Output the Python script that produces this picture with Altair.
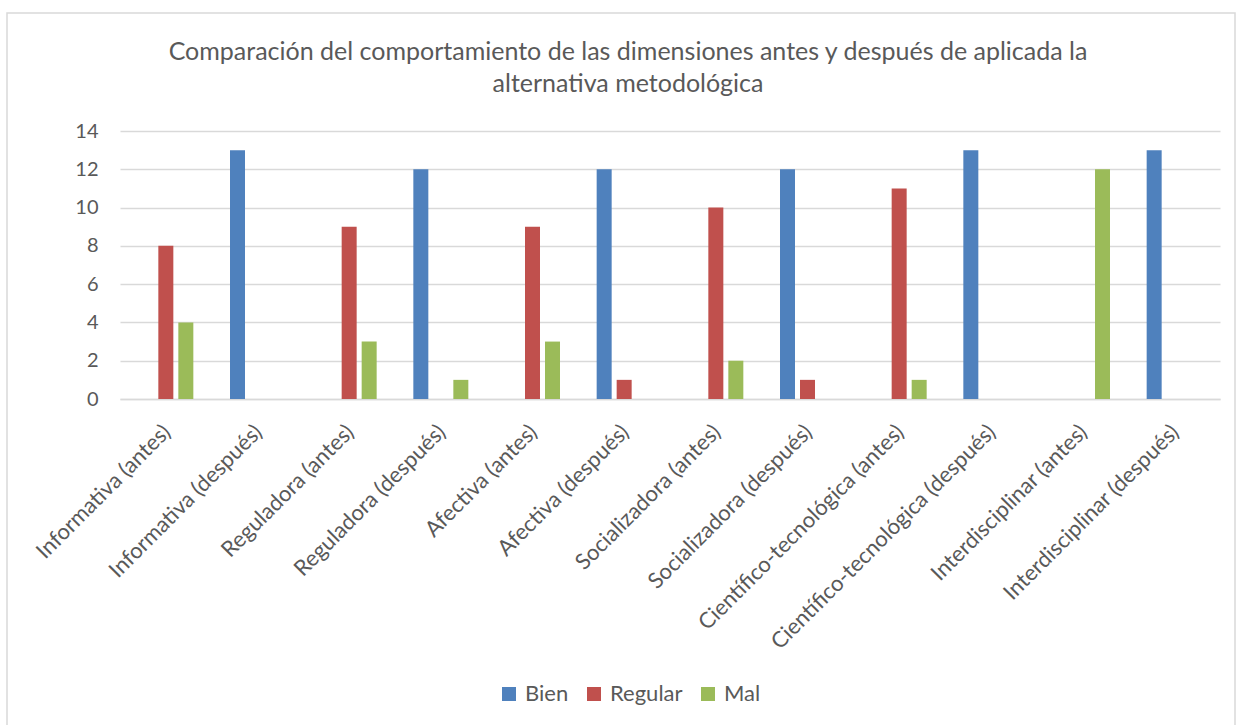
import altair as alt
import pandas as pd

categories = [
    "Informativa (antes)", "Informativa (después)",
    "Reguladora (antes)", "Reguladora (después)",
    "Afectiva (antes)", "Afectiva (después)",
    "Socializadora (antes)", "Socializadora (después)",
    "Científico-tecnológica (antes)", "Científico-tecnológica (después)",
    "Interdisciplinar (antes)", "Interdisciplinar (después)",
]
series = ["Bien", "Regular", "Mal"]
bien =    [0, 13, 0, 12, 0, 12, 0, 12, 0, 13, 0, 13]
regular = [8, 0, 9, 0, 9, 1, 10, 1, 11, 0, 0, 0]
mal =     [4, 0, 3, 1, 3, 0, 2, 0, 1, 0, 12, 0]
colors = ["#4F81BD", "#C0504D", "#9BBB59"]
title_lines = ["Comparación del comportamiento de las dimensiones antes y después de aplicada la",
               "alternativa metodológica"]

rows = []
for i, c in enumerate(categories):
    for s, vals in zip(series, [bien, regular, mal]):
        rows.append({"cat": c, "serie": s, "valor": vals[i]})
df = pd.DataFrame(rows)

FONT = "Lato"
GRAY = "#595959"

bars = alt.Chart(df).mark_bar().encode(
    x=alt.X("cat:N", sort=categories, title=None,
            scale=alt.Scale(paddingInner=0.4, paddingOuter=0.2),
            axis=alt.Axis(labelAngle=-45, labelAlign="right", labelBaseline="top",
                          labelFontSize=22, labelColor=GRAY,
                          labelFont=FONT, ticks=False, domainColor="#d9d9d9",
                          domainWidth=1.5, labelPadding=22, labelOffset=-6, labelLimit=400)),
    xOffset=alt.XOffset("serie:N", sort=series,
                        scale=alt.Scale(paddingInner=0.25)),
    y=alt.Y("valor:Q", title=None,
            scale=alt.Scale(domain=[0, 14]),
            axis=alt.Axis(values=[0, 2, 4, 6, 8, 10, 12, 14], domain=False, ticks=False,
                          labelFontSize=20, labelColor=GRAY, labelFont=FONT,
                          gridColor="#d9d9d9", gridWidth=1.5, labelPadding=22)),
    color=alt.Color("serie:N", sort=series,
                    scale=alt.Scale(domain=series, range=colors),
                    legend=alt.Legend(title=None, orient="none", direction="horizontal",
                                      legendX=378, legendY=552,
                                      symbolType="square", symbolSize=196,
                                      symbolStrokeWidth=0,
                                      labelFontSize=22, labelColor=GRAY, labelFont=FONT,
                                      columnPadding=14, labelOffset=5)),
)

border = alt.Chart(alt.Data(values=[{}])).mark_rect(
    fill=None, stroke="#d9d9d9", strokeWidth=1.5
).encode(
    x=alt.value(-113), x2=alt.value(1115), y=alt.value(-118), y2=alt.value(620)
)

title = alt.Chart(alt.Data(values=[{"t": "\n".join(title_lines)}])).mark_text(
    font=FONT, fontSize=25, color=GRAY, lineBreak="\n", lineHeight=32,
    align="center", baseline="middle"
).encode(
    text="t:N", x=alt.value(508), y=alt.value(-79)
)

chart = alt.layer(border, bars, title).properties(
    width=1100, height=268,
    padding={"left": 120, "top": 131, "right": 17, "bottom": 326},
    autosize=alt.AutoSizeParams(type="none"),
).configure_view(stroke=None)

chart.save("out.html", embed_options={"renderer": "svg", "actions": False})
